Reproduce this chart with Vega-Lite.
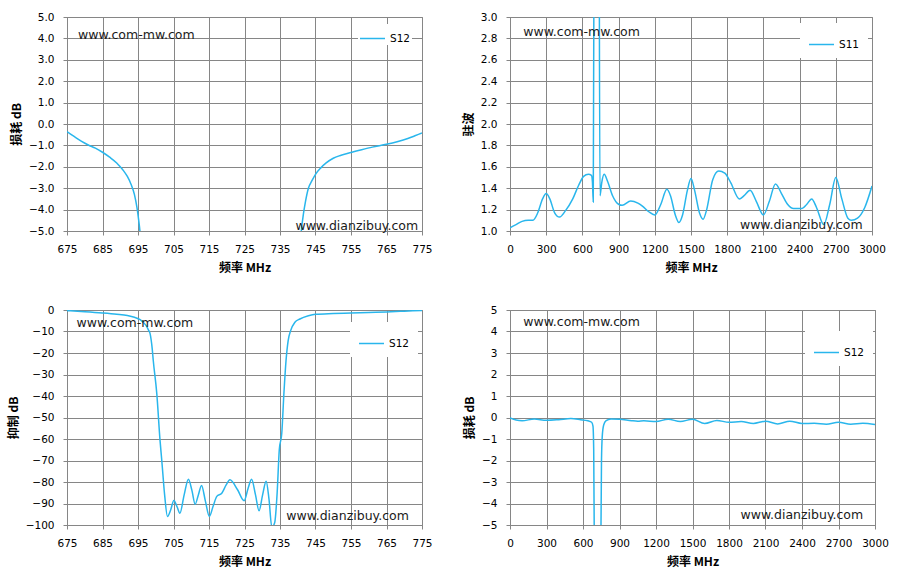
{
  "$schema": "https://vega.github.io/schema/vega-lite/v6.json",
  "background": "white",
  "padding": {"left": 6, "top": 11, "right": 5, "bottom": 5},
  "columns": 2,
  "spacing": {"row": 79, "column": 88},
  "bounds": "flush",
  "resolve": {"scale": {"color": "independent"}, "legend": {"color": "independent"}},
  "datasets": {
    "loss_narrow": [
      {"f": 675, "v": -0.36}, {"f": 677, "v": -0.58}, {"f": 679, "v": -0.8}, {"f": 681, "v": -0.98},
      {"f": 683, "v": -1.13}, {"f": 685, "v": -1.32}, {"f": 687, "v": -1.55}, {"f": 689, "v": -1.82},
      {"f": 690, "v": -2.0}, {"f": 691, "v": -2.2}, {"f": 692, "v": -2.45}, {"f": 693, "v": -2.8},
      {"f": 694, "v": -3.3}, {"f": 694.7, "v": -3.9}, {"f": 695.2, "v": -4.5}, {"f": 695.6, "v": -5.1},
      {"f": 696.2, "v": -6.5}, {"f": 697, "v": -9}, {"f": 739.5, "v": -9}, {"f": 740.5, "v": -6},
      {"f": 741, "v": -5}, {"f": 741.6, "v": -4.2}, {"f": 742.2, "v": -3.6}, {"f": 743, "v": -3.0},
      {"f": 744, "v": -2.65}, {"f": 745, "v": -2.35}, {"f": 746.5, "v": -2.05}, {"f": 748, "v": -1.82},
      {"f": 750, "v": -1.6}, {"f": 752, "v": -1.47}, {"f": 755, "v": -1.33}, {"f": 758, "v": -1.2},
      {"f": 761, "v": -1.08}, {"f": 765, "v": -0.95}, {"f": 768, "v": -0.83}, {"f": 771, "v": -0.68},
      {"f": 773, "v": -0.55}, {"f": 775, "v": -0.42}
    ],
    "vswr": [
      {"f": 0, "v": 1.03}, {"f": 50, "v": 1.06}, {"f": 100, "v": 1.09}, {"f": 150, "v": 1.1},
      {"f": 190, "v": 1.1}, {"f": 230, "v": 1.17}, {"f": 270, "v": 1.3}, {"f": 300, "v": 1.35},
      {"f": 330, "v": 1.3}, {"f": 370, "v": 1.17}, {"f": 410, "v": 1.13}, {"f": 460, "v": 1.19},
      {"f": 520, "v": 1.3}, {"f": 570, "v": 1.43}, {"f": 610, "v": 1.51}, {"f": 650, "v": 1.53},
      {"f": 675, "v": 1.52}, {"f": 683, "v": 1.46}, {"f": 690, "v": 1.27}, {"f": 696, "v": 3.5},
      {"f": 700, "v": 20}, {"f": 735, "v": 20}, {"f": 740, "v": 3.5}, {"f": 746, "v": 1.33},
      {"f": 760, "v": 1.45}, {"f": 780, "v": 1.53}, {"f": 810, "v": 1.46}, {"f": 850, "v": 1.33},
      {"f": 900, "v": 1.25}, {"f": 930, "v": 1.24}, {"f": 1000, "v": 1.28}, {"f": 1060, "v": 1.26},
      {"f": 1100, "v": 1.23}, {"f": 1150, "v": 1.18}, {"f": 1200, "v": 1.15}, {"f": 1250, "v": 1.25},
      {"f": 1300, "v": 1.39}, {"f": 1330, "v": 1.33}, {"f": 1370, "v": 1.15}, {"f": 1400, "v": 1.08},
      {"f": 1430, "v": 1.15}, {"f": 1470, "v": 1.38}, {"f": 1500, "v": 1.49}, {"f": 1530, "v": 1.38},
      {"f": 1570, "v": 1.17}, {"f": 1600, "v": 1.11}, {"f": 1630, "v": 1.2}, {"f": 1680, "v": 1.48},
      {"f": 1730, "v": 1.56}, {"f": 1780, "v": 1.54}, {"f": 1830, "v": 1.45}, {"f": 1900, "v": 1.3},
      {"f": 1940, "v": 1.33}, {"f": 1990, "v": 1.38}, {"f": 2040, "v": 1.28}, {"f": 2100, "v": 1.15},
      {"f": 2150, "v": 1.28}, {"f": 2200, "v": 1.44}, {"f": 2250, "v": 1.35}, {"f": 2300, "v": 1.25},
      {"f": 2350, "v": 1.21}, {"f": 2420, "v": 1.21}, {"f": 2460, "v": 1.25}, {"f": 2500, "v": 1.3},
      {"f": 2540, "v": 1.22}, {"f": 2600, "v": 1.06}, {"f": 2650, "v": 1.25}, {"f": 2700, "v": 1.5},
      {"f": 2750, "v": 1.3}, {"f": 2800, "v": 1.12}, {"f": 2830, "v": 1.1}, {"f": 2880, "v": 1.12},
      {"f": 2940, "v": 1.22}, {"f": 3000, "v": 1.42}
    ],
    "rejection": [
      {"f": 675, "v": -0.3}, {"f": 680, "v": -0.8}, {"f": 685, "v": -1.4}, {"f": 689, "v": -2.0},
      {"f": 692, "v": -2.6}, {"f": 694, "v": -3.4}, {"f": 695.6, "v": -4.5}, {"f": 696.5, "v": -5.8},
      {"f": 697.3, "v": -7.3}, {"f": 698, "v": -9.5}, {"f": 698.4, "v": -11}, {"f": 699, "v": -18},
      {"f": 699.3, "v": -23.5}, {"f": 700.3, "v": -39}, {"f": 701.2, "v": -60.5}, {"f": 701.7, "v": -70},
      {"f": 702.5, "v": -86}, {"f": 703.3, "v": -96}, {"f": 704.2, "v": -93}, {"f": 705.1, "v": -88.6},
      {"f": 706, "v": -91.5}, {"f": 706.8, "v": -94.5}, {"f": 708, "v": -86}, {"f": 709.2, "v": -78.7},
      {"f": 710.2, "v": -84}, {"f": 711.1, "v": -90.3}, {"f": 712, "v": -86}, {"f": 712.9, "v": -81.6},
      {"f": 714, "v": -89}, {"f": 715.1, "v": -96}, {"f": 716.2, "v": -91}, {"f": 717.2, "v": -86.7},
      {"f": 718.6, "v": -85.2}, {"f": 719.8, "v": -81.5}, {"f": 720.9, "v": -79}, {"f": 723, "v": -83.5},
      {"f": 724.9, "v": -88.7}, {"f": 726, "v": -83}, {"f": 727, "v": -78.7}, {"f": 728.1, "v": -86},
      {"f": 729.1, "v": -93.4}, {"f": 730.1, "v": -86}, {"f": 731.1, "v": -79.6}, {"f": 731.9, "v": -88},
      {"f": 732.7, "v": -101}, {"f": 733.5, "v": -99}, {"f": 734.2, "v": -85}, {"f": 734.8, "v": -65},
      {"f": 735.5, "v": -57.3}, {"f": 736.1, "v": -38.8}, {"f": 736.7, "v": -23.5}, {"f": 737.3, "v": -14.2},
      {"f": 738, "v": -9.6}, {"f": 739.2, "v": -5.7}, {"f": 740.6, "v": -4.2}, {"f": 743, "v": -2.7},
      {"f": 745, "v": -2.0}, {"f": 750, "v": -1.65}, {"f": 755, "v": -1.4}, {"f": 760, "v": -1.15},
      {"f": 765, "v": -0.9}, {"f": 770, "v": -0.55}, {"f": 775, "v": -0.2}
    ],
    "loss_wide": [
      {"f": 0, "v": -0.02}, {"f": 50, "v": -0.12}, {"f": 100, "v": -0.15}, {"f": 200, "v": -0.07},
      {"f": 300, "v": -0.13}, {"f": 400, "v": -0.1}, {"f": 500, "v": -0.05}, {"f": 580, "v": -0.1},
      {"f": 640, "v": -0.15}, {"f": 671, "v": -0.22}, {"f": 682, "v": -0.4}, {"f": 688, "v": -1.5},
      {"f": 692, "v": -5}, {"f": 696, "v": -20}, {"f": 744, "v": -20}, {"f": 748, "v": -5},
      {"f": 752, "v": -2.0}, {"f": 758, "v": -0.9}, {"f": 770, "v": -0.35}, {"f": 790, "v": -0.15},
      {"f": 830, "v": -0.07}, {"f": 900, "v": -0.08}, {"f": 1000, "v": -0.15}, {"f": 1050, "v": -0.17},
      {"f": 1100, "v": -0.15}, {"f": 1200, "v": -0.19}, {"f": 1300, "v": -0.08}, {"f": 1400, "v": -0.19},
      {"f": 1500, "v": -0.08}, {"f": 1600, "v": -0.28}, {"f": 1700, "v": -0.14}, {"f": 1800, "v": -0.22},
      {"f": 1900, "v": -0.19}, {"f": 2000, "v": -0.28}, {"f": 2100, "v": -0.17}, {"f": 2200, "v": -0.3},
      {"f": 2300, "v": -0.17}, {"f": 2400, "v": -0.28}, {"f": 2500, "v": -0.27}, {"f": 2600, "v": -0.31},
      {"f": 2700, "v": -0.22}, {"f": 2800, "v": -0.31}, {"f": 2900, "v": -0.27}, {"f": 3000, "v": -0.33}
    ],
    "one": [{}]
  },
  "concat": [
    {
      "width": 355, "height": 214,
      "layer": [
        {
          "data": {"name": "loss_narrow"},
          "mark": {"type": "line", "clip": true, "interpolate": "monotone", "strokeWidth": 1.5},
          "encoding": {
            "x": {"field": "f", "type": "quantitative", "title": "频率 MHz",
                  "scale": {"domain": [675, 775], "nice": false, "zero": false},
                  "axis": {"values": [675, 685, 695, 705, 715, 725, 735, 745, 755, 765, 775], "format": "d"}},
            "y": {"field": "v", "type": "quantitative", "title": "损耗 dB",
                  "scale": {"domain": [-5, 5], "nice": false, "zero": false},
                  "axis": {"values": [-5, -4, -3, -2, -1, 0, 1, 2, 3, 4, 5], "format": ".1f"}},
            "color": {"datum": "S12", "scale": {"range": ["#29b6ec"]},
                      "legend": {"orient": "none", "legendX": 291, "legendY": 7, "padding": 1}}
          }
        },
        {
          "data": {"name": "one"},
          "mark": {"type": "text", "text": "www.com-mw.com", "align": "left", "baseline": "middle"},
          "encoding": {"x": {"datum": 678.1}, "y": {"datum": 4.15}}
        },
        {
          "data": {"name": "one"},
          "mark": {"type": "text", "text": "www.dianzibuy.com", "align": "right", "baseline": "middle"},
          "encoding": {"x": {"datum": 773.9}, "y": {"datum": -4.78}}
        }
      ]
    },
    {
      "width": 362, "height": 214,
      "layer": [
        {
          "data": {"name": "vswr"},
          "mark": {"type": "line", "clip": true, "interpolate": "monotone", "strokeWidth": 1.5},
          "encoding": {
            "x": {"field": "f", "type": "quantitative", "title": "频率 MHz",
                  "scale": {"domain": [0, 3000], "nice": false, "zero": false},
                  "axis": {"values": [0, 300, 600, 900, 1200, 1500, 1800, 2100, 2400, 2700, 3000], "format": "d"}},
            "y": {"field": "v", "type": "quantitative", "title": "驻波",
                  "scale": {"domain": [1, 3], "nice": false, "zero": false},
                  "axis": {"values": [1.0, 1.2, 1.4, 1.6, 1.8, 2.0, 2.2, 2.4, 2.6, 2.8, 3.0], "format": ".1f"}},
            "color": {"datum": "S11", "scale": {"range": ["#29b6ec"]},
                      "legend": {"orient": "none", "legendX": 290, "legendY": 6, "padding": 8}}
          }
        },
        {
          "data": {"name": "one"},
          "mark": {"type": "text", "text": "www.com-mw.com", "align": "left", "baseline": "middle"},
          "encoding": {"x": {"datum": 110}, "y": {"datum": 2.86}}
        },
        {
          "data": {"name": "one"},
          "mark": {"type": "text", "text": "www.dianzibuy.com", "align": "right", "baseline": "middle"},
          "encoding": {"x": {"datum": 2922}, "y": {"datum": 1.06}}
        }
      ]
    },
    {
      "width": 355, "height": 215,
      "layer": [
        {
          "data": {"name": "rejection"},
          "mark": {"type": "line", "clip": true, "interpolate": "monotone", "strokeWidth": 1.5},
          "encoding": {
            "x": {"field": "f", "type": "quantitative", "title": "频率 MHz",
                  "scale": {"domain": [675, 775], "nice": false, "zero": false},
                  "axis": {"values": [675, 685, 695, 705, 715, 725, 735, 745, 755, 765, 775], "format": "d"}},
            "y": {"field": "v", "type": "quantitative", "title": "抑制 dB",
                  "scale": {"domain": [-100, 0], "nice": false, "zero": false},
                  "axis": {"values": [-100, -90, -80, -70, -60, -50, -40, -30, -20, -10, 0], "format": "d"}},
            "color": {"datum": "S12", "scale": {"range": ["#29b6ec"]},
                      "legend": {"orient": "none", "legendX": 283, "legendY": 12, "padding": 8}}
          }
        },
        {
          "data": {"name": "one"},
          "mark": {"type": "text", "text": "www.com-mw.com", "align": "left", "baseline": "middle"},
          "encoding": {"x": {"datum": 677.7}, "y": {"datum": -6.2}}
        },
        {
          "data": {"name": "one"},
          "mark": {"type": "text", "text": "www.dianzibuy.com", "align": "right", "baseline": "middle"},
          "encoding": {"x": {"datum": 771.3}, "y": {"datum": -95.7}}
        }
      ]
    },
    {
      "width": 365, "height": 215,
      "layer": [
        {
          "data": {"name": "loss_wide"},
          "mark": {"type": "line", "clip": true, "interpolate": "monotone", "strokeWidth": 1.5},
          "encoding": {
            "x": {"field": "f", "type": "quantitative", "title": "频率 MHz",
                  "scale": {"domain": [0, 3000], "nice": false, "zero": false},
                  "axis": {"values": [0, 300, 600, 900, 1200, 1500, 1800, 2100, 2400, 2700, 3000], "format": "d"}},
            "y": {"field": "v", "type": "quantitative", "title": "损耗 dB",
                  "scale": {"domain": [-5, 5], "nice": false, "zero": false},
                  "axis": {"values": [-5, -4, -3, -2, -1, 0, 1, 2, 3, 4, 5], "format": "d"}},
            "color": {"datum": "S12", "scale": {"range": ["#29b6ec"]},
                      "legend": {"orient": "none", "legendX": 295, "legendY": 21, "padding": 8}}
          }
        },
        {
          "data": {"name": "one"},
          "mark": {"type": "text", "text": "www.com-mw.com", "align": "left", "baseline": "middle"},
          "encoding": {"x": {"datum": 109}, "y": {"datum": 4.44}}
        },
        {
          "data": {"name": "one"},
          "mark": {"type": "text", "text": "www.dianzibuy.com", "align": "right", "baseline": "middle"},
          "encoding": {"x": {"datum": 2903}, "y": {"datum": -4.52}}
        }
      ]
    }
  ],
  "config": {
    "view": {"stroke": "#868686", "strokeWidth": 1},
    "axis": {
      "domainColor": "#868686", "gridColor": "#868686", "gridOpacity": 1, "gridWidth": 1,
      "tickColor": "#868686", "tickSize": 4, "tickCount": 40,
      "labelFont": "DejaVu Sans", "labelFontSize": 10.5, "labelColor": "#000000",
      "labelFlush": false, "labelOverlap": false,
      "titleFont": "Noto Sans CJK SC", "titleFontSize": 12, "titleFontWeight": "bold", "titleColor": "#000000"
    },
    "axisX": {"labelPadding": 9, "titlePadding": 8},
    "axisY": {"labelPadding": 9, "titlePadding": 5},
    "legend": {
      "title": null, "fillColor": "white", "symbolType": "stroke", "symbolSize": 625,
      "symbolStrokeWidth": 1.5, "labelFont": "DejaVu Sans", "labelFontSize": 10.5, "labelColor": "#000000",
      "labelOffset": 4
    },
    "text": {"font": "DejaVu Sans", "fontSize": 12.5, "fill": "#1a1a1a"}
  }
}
